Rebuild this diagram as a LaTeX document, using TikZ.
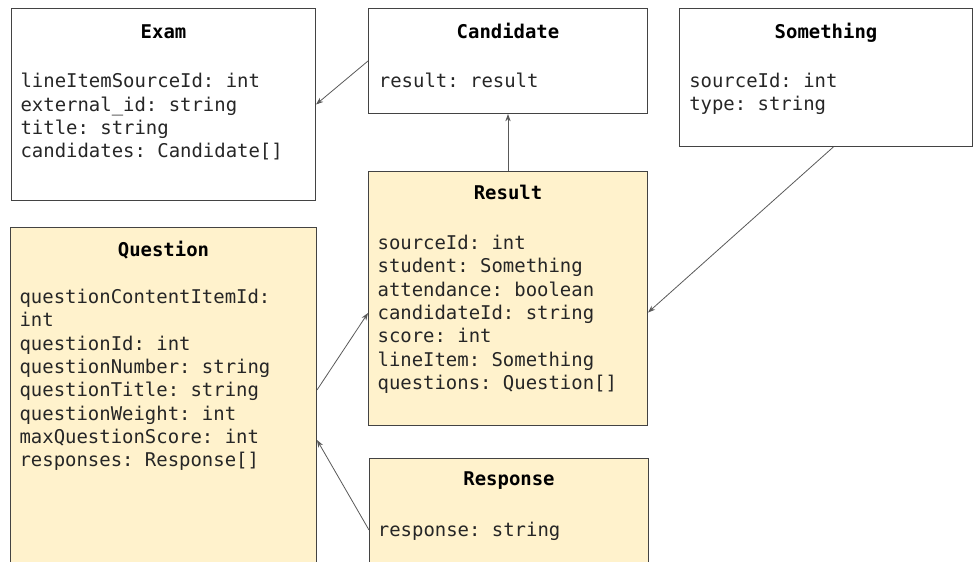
\documentclass[tikz,border=0pt]{standalone}
\usepackage{fontspec}
\setmonofont{DejaVu Sans Mono}
\usetikzlibrary{arrows.meta}
\definecolor{boxfill}{HTML}{FFF2CC}
\definecolor{boxline}{HTML}{434343}
\definecolor{arrowgray}{HTML}{595959}

\begin{document}
\begin{tikzpicture}[x=0.75pt,y=-0.75pt,
  classbox/.style={draw=boxline, line width=0.75pt, rectangle, inner sep=0pt, anchor=north west},
  yellowbox/.style={classbox, fill=boxfill},
  classname/.style={font=\ttfamily\bfseries\fontsize{14.2}{17.5}\selectfont, anchor=base, inner sep=0pt},
  fields/.style={font=\ttfamily\fontsize{14.2}{17.5}\selectfont, align=left, anchor=north west, inner sep=0pt, text=black!85},
  link/.style={draw=arrowgray, line width=0.6pt, -{Stealth[length=5.5pt,width=4pt]}}]
\useasboundingbox (0,0) rectangle (974,561);
\clip (0,0) rectangle (974,561);

% top row
\node[classbox, minimum width=228pt, minimum height=144pt] (exam) at (11,8) {};
\node[classname] (examname) at ([yshift=-22.5pt]exam.north) {Exam};
\node[fields] (examfields) at ([xshift=7pt,yshift=-48.75pt]exam.north west)
  {lineItemSourceId: int\\external\_id: string\\title: string\\candidates: Candidate[]};

\node[classbox, minimum width=209.25pt, minimum height=78.75pt] (candidate) at (368,8) {};
\node[classname] (candidatename) at ([yshift=-22.5pt]candidate.north) {Candidate};
\node[fields] (candidatefields) at ([xshift=8pt,yshift=-48.75pt]candidate.north west)
  {result: result};

\node[classbox, minimum width=219.75pt, minimum height=103.5pt] (something) at (679,8) {};
\node[classname] (somethingname) at ([yshift=-22.5pt]something.north) {Something};
\node[fields] (somethingfields) at ([xshift=7.5pt,yshift=-48.75pt]something.north west)
  {sourceId: int\\type: string};

% yellow classes
\node[yellowbox, minimum width=209.25pt, minimum height=190.5pt] (result) at (368,171) {};
\node[classname] (resultname) at ([yshift=-21pt]result.north) {Result};
\node[fields] (resultfields) at ([xshift=7pt,yshift=-48pt]result.north west)
  {sourceId: int\\student: Something\\attendance: boolean\\candidateId: string\\score: int\\lineItem: Something\\questions: Question[]};

\node[yellowbox, minimum width=229.5pt, minimum height=270pt] (question) at (10,227) {};
\node[classname] (questionname) at ([yshift=-21.75pt]question.north) {Question};
\node[fields] (questionfields) at ([xshift=7pt,yshift=-46.5pt]question.north west)
  {questionContentItemId:\\int\\questionId: int\\questionNumber: string\\questionTitle: string\\questionWeight: int\\maxQuestionScore: int\\responses: Response[]};

\node[yellowbox, minimum width=209.25pt, minimum height=112.5pt] (response) at (369,458) {};
\node[classname] (responsename) at ([yshift=-20.25pt]response.north) {Response};
\node[fields] (responsefields) at ([xshift=6.5pt,yshift=-48pt]response.north west)
  {response: string};

% links
\draw[link] (candidate.west) -- (exam.east);
\draw[link] (result.north) -- (candidate.south);
\draw[link] ([xshift=5.5pt]something.south) -- ([yshift=-10.5pt]result.east);
\draw[link] ([yshift=-122.25pt]question.north east) -- ([yshift=-106.5pt]result.north west);
\draw[link] ([yshift=-54pt]response.north west) -- ([yshift=-159.75pt]question.north east);
\end{tikzpicture}
\end{document}
